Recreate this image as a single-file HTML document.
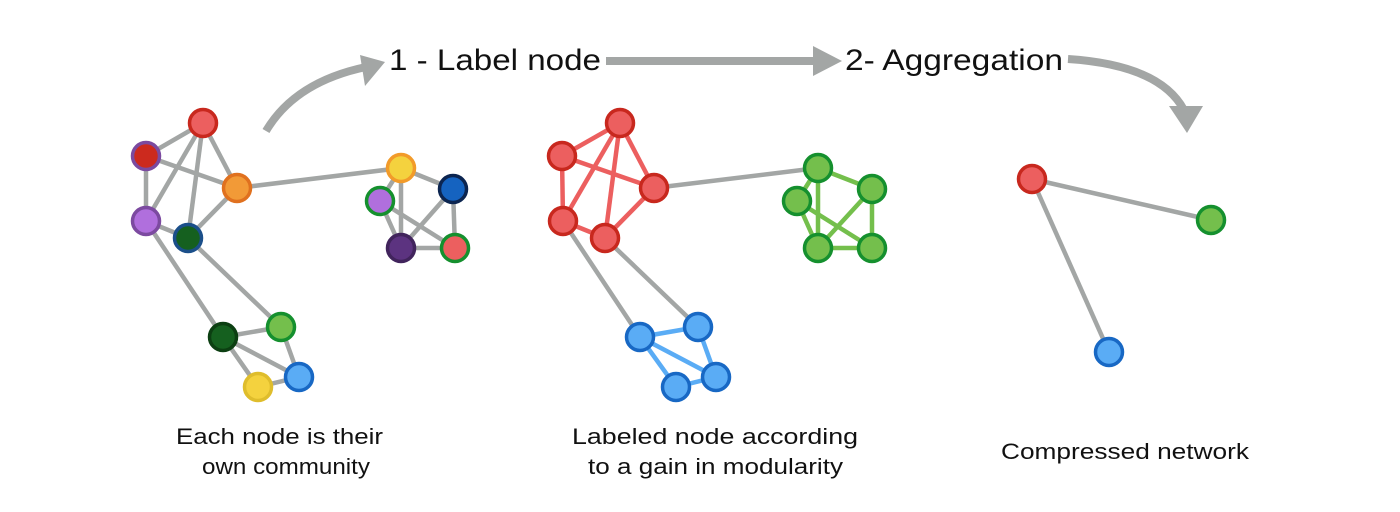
<!DOCTYPE html>
<html><head><meta charset="utf-8"><style>
html,body{margin:0;padding:0;background:#fff;}
svg{display:block;}
text{font-family:"Liberation Sans",sans-serif;fill:#111;}
</style></head><body>
<svg width="1400" height="512" viewBox="0 0 1400 512" xmlns="http://www.w3.org/2000/svg">
<!-- arrows -->
<g fill="none" stroke="#a3a6a5" stroke-width="8">
<path d="M266,131 Q295,82 366,67"/>
<line x1="606" y1="61" x2="816" y2="61"/>
<path d="M1068,59 Q1160,65 1184,110"/>
</g>
<g fill="#a3a6a5">
<polygon points="385,62 360,55 365,86"/>
<polygon points="842,61 813,46 813,76"/>
<polygon points="1187,133 1169,106 1203,106"/>
</g>
<text x="389" y="70" font-size="30" textLength="212" lengthAdjust="spacingAndGlyphs">1 - Label node</text>
<text x="845" y="70" font-size="30" textLength="218" lengthAdjust="spacingAndGlyphs">2- Aggregation</text>

<!-- graph 1 -->
<g stroke="#a3a6a5" stroke-width="4.5">
<line x1="203" y1="123" x2="146" y2="156"/><line x1="203" y1="123" x2="146" y2="221"/>
<line x1="203" y1="123" x2="188" y2="238"/><line x1="203" y1="123" x2="237" y2="188"/>
<line x1="146" y1="156" x2="237" y2="188"/><line x1="146" y1="156" x2="146" y2="221"/>
<line x1="146" y1="221" x2="188" y2="238"/><line x1="188" y1="238" x2="237" y2="188"/>
<line x1="237" y1="188" x2="401" y2="168"/>
<line x1="401" y1="168" x2="453" y2="189"/><line x1="401" y1="168" x2="380" y2="201"/>
<line x1="401" y1="168" x2="401" y2="248"/><line x1="380" y1="201" x2="401" y2="248"/>
<line x1="380" y1="201" x2="455" y2="248"/><line x1="453" y1="189" x2="401" y2="248"/>
<line x1="453" y1="189" x2="455" y2="248"/><line x1="401" y1="248" x2="455" y2="248"/>
<line x1="146" y1="221" x2="223" y2="337"/><line x1="188" y1="238" x2="281" y2="327"/>
<line x1="223" y1="337" x2="281" y2="327"/><line x1="223" y1="337" x2="299" y2="377"/>
<line x1="223" y1="337" x2="258" y2="387"/><line x1="258" y1="387" x2="299" y2="377"/>
<line x1="281" y1="327" x2="299" y2="377"/>
</g>
<g stroke-width="3.5">
<circle cx="203" cy="123" r="13.5" fill="#ec5f5f" stroke="#c8281e"/>
<circle cx="146" cy="156" r="13.5" fill="#cc2a1e" stroke="#7b4aa0"/>
<circle cx="237" cy="188" r="13.5" fill="#f29a37" stroke="#e0711f"/>
<circle cx="146" cy="221" r="13.5" fill="#b06fdd" stroke="#7c4aa0"/>
<circle cx="188" cy="238" r="13.5" fill="#15601f" stroke="#1b4f8a"/>
<circle cx="401" cy="168" r="13.5" fill="#f4d23e" stroke="#f29b2a"/>
<circle cx="453" cy="189" r="13.5" fill="#1563c0" stroke="#0c2550"/>
<circle cx="380" cy="201" r="13.5" fill="#b06fdd" stroke="#15902e"/>
<circle cx="401" cy="248" r="13.5" fill="#5c3380" stroke="#41245c"/>
<circle cx="455" cy="248" r="13.5" fill="#ec5f5f" stroke="#15902e"/>
<circle cx="223" cy="337" r="13.5" fill="#15601f" stroke="#0c3f12"/>
<circle cx="281" cy="327" r="13.5" fill="#74bf4c" stroke="#15902e"/>
<circle cx="299" cy="377" r="13.5" fill="#5aacf5" stroke="#1868c4"/>
<circle cx="258" cy="387" r="13.5" fill="#f4d23e" stroke="#dfbd2c"/>
</g>

<!-- graph 2 -->
<g stroke-width="4.5">
<g stroke="#ec5f5f">
<line x1="620" y1="123" x2="562" y2="156"/><line x1="620" y1="123" x2="563" y2="221"/>
<line x1="620" y1="123" x2="605" y2="238"/><line x1="620" y1="123" x2="654" y2="188"/>
<line x1="562" y1="156" x2="654" y2="188"/><line x1="562" y1="156" x2="563" y2="221"/>
<line x1="563" y1="221" x2="605" y2="238"/><line x1="605" y1="238" x2="654" y2="188"/>
</g>
<g stroke="#a3a6a5">
<line x1="654" y1="188" x2="818" y2="168"/>
<line x1="563" y1="221" x2="640" y2="337"/><line x1="605" y1="238" x2="698" y2="327"/>
</g>
<g stroke="#74bf4c">
<line x1="818" y1="168" x2="872" y2="189"/><line x1="818" y1="168" x2="797" y2="201"/>
<line x1="818" y1="168" x2="818" y2="248"/><line x1="797" y1="201" x2="818" y2="248"/>
<line x1="797" y1="201" x2="872" y2="248"/><line x1="872" y1="189" x2="818" y2="248"/>
<line x1="872" y1="189" x2="872" y2="248"/><line x1="818" y1="248" x2="872" y2="248"/>
</g>
<g stroke="#5aacf5">
<line x1="640" y1="337" x2="698" y2="327"/><line x1="640" y1="337" x2="716" y2="377"/>
<line x1="640" y1="337" x2="676" y2="387"/><line x1="676" y1="387" x2="716" y2="377"/>
<line x1="698" y1="327" x2="716" y2="377"/>
</g>
</g>
<g stroke-width="3.5">
<g fill="#ec5f5f" stroke="#c8281e">
<circle cx="620" cy="123" r="13.5"/><circle cx="562" cy="156" r="13.5"/>
<circle cx="654" cy="188" r="13.5"/><circle cx="563" cy="221" r="13.5"/>
<circle cx="605" cy="238" r="13.5"/>
</g>
<g fill="#74bf4c" stroke="#15902e">
<circle cx="818" cy="168" r="13.5"/><circle cx="872" cy="189" r="13.5"/>
<circle cx="797" cy="201" r="13.5"/><circle cx="818" cy="248" r="13.5"/>
<circle cx="872" cy="248" r="13.5"/>
</g>
<g fill="#5aacf5" stroke="#1868c4">
<circle cx="640" cy="337" r="13.5"/><circle cx="698" cy="327" r="13.5"/>
<circle cx="716" cy="377" r="13.5"/><circle cx="676" cy="387" r="13.5"/>
</g>
</g>

<!-- graph 3 -->
<g stroke="#a3a6a5" stroke-width="4.5">
<line x1="1032" y1="179" x2="1211" y2="220"/><line x1="1032" y1="179" x2="1109" y2="352"/>
</g>
<g stroke-width="3.5">
<circle cx="1032" cy="179" r="13.5" fill="#ec5f5f" stroke="#c8281e"/>
<circle cx="1211" cy="220" r="13.5" fill="#74bf4c" stroke="#15902e"/>
<circle cx="1109" cy="352" r="13.5" fill="#5aacf5" stroke="#1868c4"/>
</g>

<!-- captions -->
<g font-size="22">
<text x="176" y="444" textLength="207" lengthAdjust="spacingAndGlyphs">Each node is their</text>
<text x="202" y="474" textLength="168" lengthAdjust="spacingAndGlyphs">own community</text>
<text x="572" y="444" textLength="286" lengthAdjust="spacingAndGlyphs">Labeled node according</text>
<text x="588" y="474" textLength="255" lengthAdjust="spacingAndGlyphs">to a gain in modularity</text>
<text x="1001" y="459" textLength="248" lengthAdjust="spacingAndGlyphs">Compressed network</text>
</g>
</svg>
</body></html>
